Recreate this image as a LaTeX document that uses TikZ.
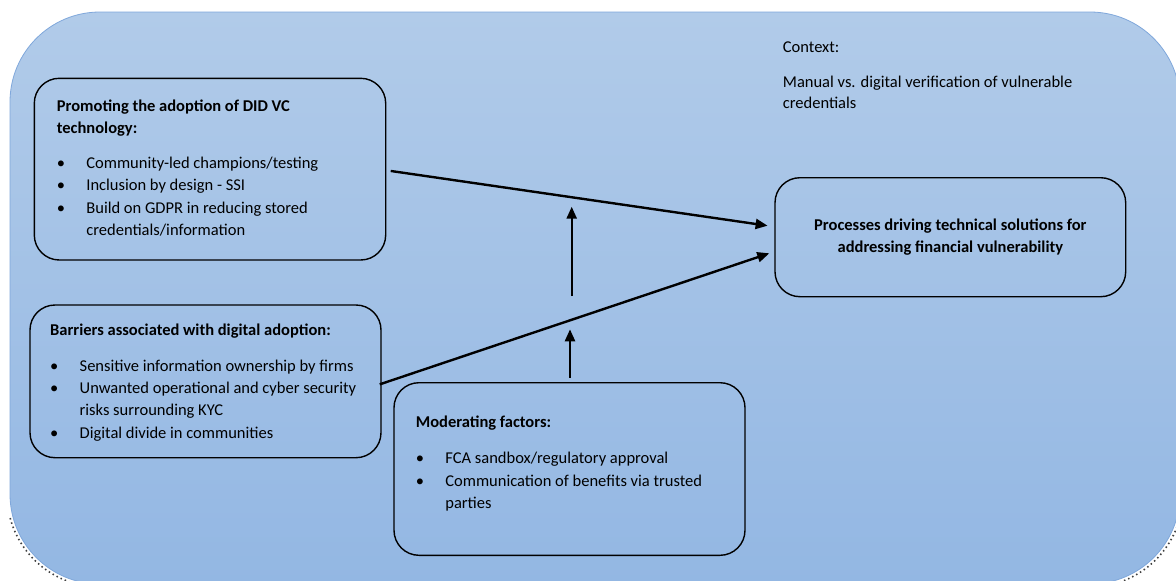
\documentclass[tikz,border=0pt]{standalone}
\usepackage{fontspec}
\setmainfont{Carlito}
\usetikzlibrary{arrows.meta}
\definecolor{bgtop}{HTML}{B1CBE9}
\definecolor{bgbot}{HTML}{93B7E3}
\definecolor{bgedge}{HTML}{7FA7DB}
\newcommand\itm[1]{\par\hangindent=29.5pt\hangafter=1\noindent\makebox[29.5pt][l]{\textbullet}#1}
\newcommand\txtsize{\fontsize{16.5}{22.2}\selectfont}
\begin{document}
\begin{tikzpicture}[x=1pt,y=-1pt,
  box/.style={draw=black, line width=1.4pt, rounded corners=25pt, inner sep=0pt},
  txt/.style={anchor=base west, inner sep=0pt},
  arr/.style={line width=2.4pt, -{Triangle[length=12pt,width=10pt]}},
  speckle/.style={draw=black!75, line width=1.6pt, dash pattern=on 1.5pt off 3pt}]
\useasboundingbox (0,0) rectangle (1176,581);
% background panel
\shade[top color=bgtop, bottom color=bgbot, rounded corners=90pt] (10,12) rectangle (1180,584);
\draw[bgedge, line width=0.8pt, rounded corners=90pt] (10,12) rectangle (1180,584);
\draw[speckle] (100,494) ++(165:93) arc[start angle=165, end angle=95, radius=93];
\draw[speckle] (1090,494) ++(15:93) arc[start angle=15, end angle=85, radius=93];

% boxes
\node[box, minimum width=351.4pt, minimum height=181.7pt] (promo) at (210,169.15) {};
\node[box, minimum width=351pt, minimum height=152.7pt] (barr) at (205.5,381.35) {};
\node[box, minimum width=351pt, minimum height=172.6pt] (moder) at (569.5,469) {};
\node[box, minimum width=350.7pt, minimum height=119pt, font=\txtsize\bfseries, align=center] (proc) at (950.35,237.2)
  {Processes driving technical solutions for\\addressing financial vulnerability};

% texts
\node[txt] (promotxt) at (56.7,111.7) {\parbox[t]{320pt}{\raggedright\txtsize
  \textbf{Promoting the adoption of DID VC\newline technology:}\par\vspace{12.5pt}
  \itm{Community-led champions/testing}
  \itm{Inclusion by design - SSI}
  \itm{Build on GDPR in reducing stored\newline credentials/information}}};
\node[txt] (barrtxt) at (50,335.7) {\parbox[t]{330pt}{\raggedright\txtsize
  \textbf{Barriers associated with digital adoption:}\par\vspace{13.5pt}
  \itm{Sensitive information ownership by firms}
  \itm{Unwanted operational and cyber security\newline risks surrounding KYC}
  \itm{Digital divide in communities}}};
\node[txt] (modertxt) at (415.7,427.7) {\parbox[t]{320pt}{\raggedright\txtsize
  \textbf{Moderating factors:}\par\vspace{14pt}
  \itm{FCA sandbox/regulatory approval}
  \itm{Communication of benefits via trusted\newline parties}}};
\node[txt] (context) at (782.7,52.7) {\parbox[t]{360pt}{\raggedright\fontsize{16.5}{21}\selectfont
  Context:\par\vspace{13.6pt}
  Manual vs. digital verification of vulnerable\newline credentials}};

% connectors
\coordinate (m1s) at (571.7,296);
\coordinate (m1e) at (571.7,206.7);
\coordinate (m2e) at (570,329.3);
\draw[arr] ([shift={(4.3,1.8)}]promo.east) -- ([shift={(-6.7,-11.5)}]proc.west);
\draw[arr] ([shift={(-2,3)}]barr.east) -- ([shift={(-5,16.1)}]proc.west);
\draw[arr] (m1s) -- (m1e);
\draw[arr] ([shift={(0.5,-4.4)}]moder.north) -- (m2e);
\end{tikzpicture}
\end{document}
